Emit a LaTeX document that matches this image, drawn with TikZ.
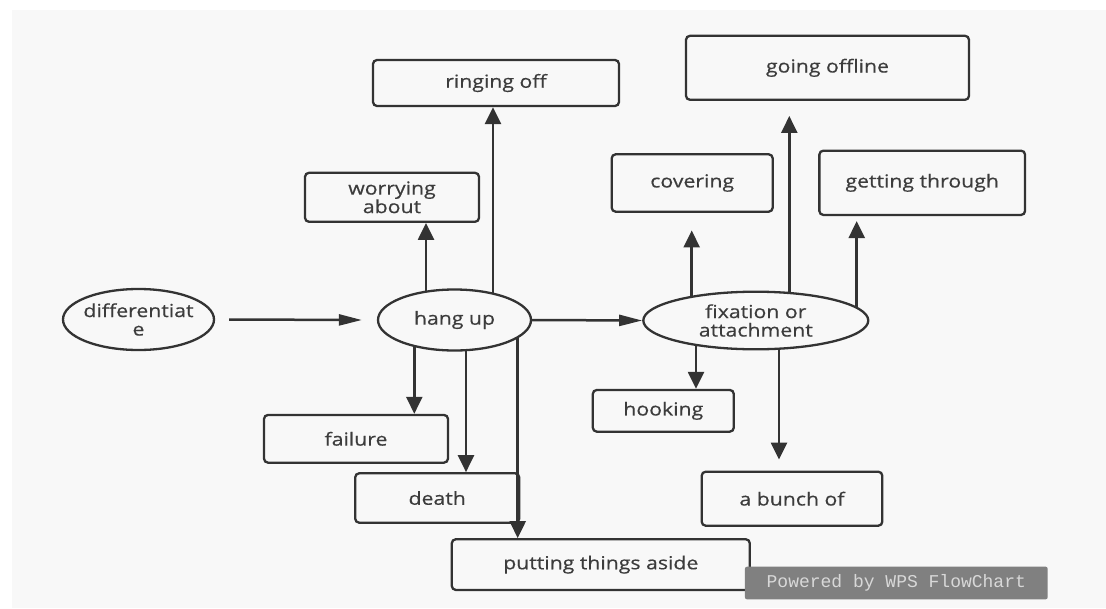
\documentclass[tikz,border=0pt]{standalone}
\usepackage{fontspec}
\setmainfont{Open Sans}[FakeStretch=1.18,FakeBold=0.5]
\newfontfamily\wpsfont{Liberation Mono}
\usetikzlibrary{shapes.geometric,arrows.meta,calc}
\definecolor{bg}{HTML}{F8F8F8}
\definecolor{ln}{HTML}{333333}
\definecolor{tx}{HTML}{3C3C3C}
\definecolor{wm}{HTML}{808080}
\definecolor{wmt}{HTML}{D8D8D8}
\begin{document}
\begin{tikzpicture}[x=1pt,y=-1pt,
  lbl/.style={text=tx, font=\fontsize{18}{18.5}\selectfont, align=center},
  box/.style={lbl, draw=ln, line width=2.3pt, rounded corners=4pt, fill=bg, inner sep=0pt},
  oval/.style={lbl, ellipse, draw=ln, line width=2.3pt, fill=bg, inner sep=0pt},
  varrow/.style={draw=ln, line width=2.5pt, -{Triangle[length=17pt,width=16pt]}},
  harrow/.style={draw=ln, line width=2.5pt, -{Triangle[length=23pt,width=11pt]}}]
\useasboundingbox (0,0) rectangle (1106,608);
\fill[white] (0,0) rectangle (1106,608);
\fill[bg] (12,10) rectangle (1106,608);

% ovals
\node[oval, inner xsep=-3pt, minimum width=151pt, minimum height=61pt] (diff) at (138.5,319.5) {differentiat\\e};
\node[oval, minimum width=153pt, minimum height=61pt] (hang) at (454.5,320) {hang up};
\node[oval, minimum width=225pt, minimum height=57.6pt] (fix) at (755.8,320.5) {fixation or\\attachment};

% boxes
\node[box, minimum width=246pt, minimum height=46pt] (ring) at (496,83) {ringing off};
\node[box, minimum width=174pt, minimum height=49pt] (worry) at (392,197.3) {worrying\\about};
\node[box, minimum width=184pt, minimum height=47.7pt] (fail) at (356,438.8) {failure};
\node[box, minimum width=164pt, minimum height=49.4pt] (death) at (437.2,498) {death};
\node[box, minimum width=298pt, minimum height=50.7pt] (put) at (600.8,564.6) {putting things aside};
\node[box, minimum width=283pt, minimum height=64pt] (off) at (827.5,67.8) {going offline};
\node[box, minimum width=161pt, minimum height=57.4pt] (cover) at (692.2,183) {covering};
\node[box, minimum width=205.7pt, minimum height=64.3pt] (get) at (922.2,182.8) {getting through};
\node[box, minimum width=141pt, minimum height=41.7pt] (hook) at (663.3,410.8) {hooking};
\node[box, minimum width=180.6pt, minimum height=54pt] (bunch) at (792,498.7) {a bunch of};

% horizontal connectors
\draw[harrow] ([xshift=14pt]diff.east) -- ([xshift=-15pt]hang.west);
\draw[harrow] (hang.east) -- (fix.west);

% connectors from hang up
\coordinate (hw) at (426,291.7);
\coordinate (hr) at (493,293.6);
\coordinate (hf) at (414.3,346);
\coordinate (hd) at (466,350.2);
\coordinate (hp) at (517.7,337.2);
\draw[varrow] (hw) -- (hw |- worry.south);
\draw[varrow] (hr) -- (hr |- ring.south);
\draw[varrow] (hf) -- (hf |- fail.north);
\draw[varrow] (hd) -- (hd |- death.north);
\draw[varrow] (hp) -- (hp |- put.north);

% connectors from fixation
\coordinate (fc) at (691.7,296.8);
\coordinate (fo) at (789.3,293);
\coordinate (fg) at (856.7,307.8);
\coordinate (fh) at (696,344.9);
\coordinate (fb) at (779,348.7);
\draw[varrow] (fc) -- ($(fc |- cover.south)+(0,17.6)$);
\draw[varrow] (fo) -- ($(fo |- off.south)+(0,15)$);
\draw[varrow] (fg) -- ($(fg |- get.south)+(0,5)$);
\draw[varrow] (fh) -- (fh |- hook.north);
\draw[varrow] (fb) -- ($(fb |- bunch.north)+(0,-11)$);

% watermark
\node[fill=wm, rounded corners=2pt, minimum width=302.7pt, minimum height=32.6pt, inner sep=0pt, text=wmt, font=\wpsfont\fontsize{18}{18}\selectfont] (wps) at (896.3,583) {Powered by WPS FlowChart};
\end{tikzpicture}
\end{document}
